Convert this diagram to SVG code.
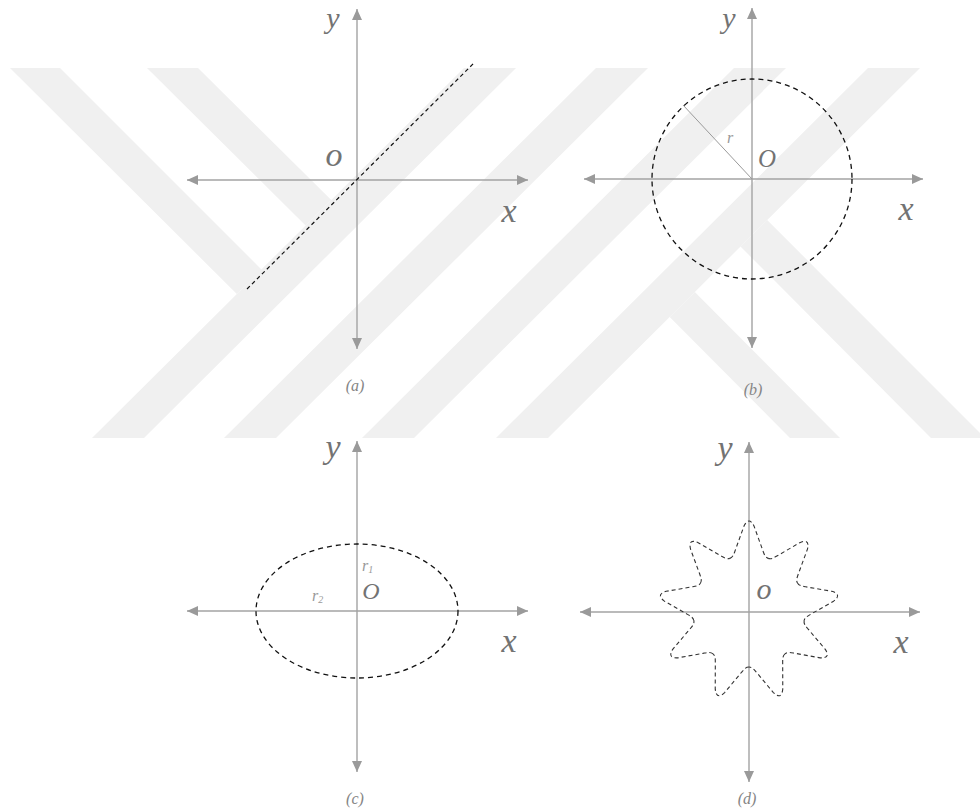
<svg xmlns="http://www.w3.org/2000/svg" xmlns:xlink="http://www.w3.org/1999/xlink" width="980" height="812" viewBox="0 0 980 812">
  <style>
    .wm { fill: #f0f0f0; stroke: none; }
    .axis { stroke: #a3a3a3; stroke-width: 1.4; fill: none; marker-start: url(#arr); marker-end: url(#arr); }
    .dash { stroke: #111111; stroke-width: 1.3; fill: none; stroke-dasharray: 5 4; }
    .dashfine { stroke: #333333; stroke-width: 1.1; fill: none; stroke-dasharray: 4 3; }
    .radius { stroke: #9a9a9a; stroke-width: 1; fill: none; }
    .lbl { font-family: "Liberation Serif", "Times New Roman", serif; font-style: italic; fill: #737373; text-anchor: middle; }
    .big { font-size: 34px; }
    .top { font-size: 30px; }
    .cap { font-size: 16px; fill: #858585; }
    .small { font-size: 16px; fill: #999999; text-anchor: start; }
    .sub { font-size: 10px; }
  </style>
  <defs>
    <marker id="arr" viewBox="0 0 11 10" refX="11" refY="5" markerWidth="11" markerHeight="10" markerUnits="userSpaceOnUse" orient="auto-start-reverse">
      <path d="M0,0 L11,5 L0,10 z" fill="#9a9a9a"/>
    </marker>
    <path id="lobe" d="M-19.15,-52.62 C-16.3,-53.6 -15.5,-56 -14,-60 L-5,-85 Q0,-95 5,-85 L14,-60 C15.5,-56 16.3,-53.6 19.15,-52.62"/>
  </defs>

  <rect x="0" y="0" width="980" height="812" fill="#ffffff"/>

  <g id="watermark">
    <polygon class="wm" points="10,68 60,68 261.9,269.9 236.8,294"/>
    <polygon class="wm" points="147,68 198,68 331.3,200 305.6,225.5"/>
    <polygon class="wm" points="92,438 144,438 516,68 464,68"/>
    <polygon class="wm" points="224,438 276,438 648,68 596,68"/>
    <polygon class="wm" points="362,438 414,438 786,68 734,68"/>
    <polygon class="wm" points="496,438 548,438 920,68 868,68"/>
    <polygon class="wm" points="669.7,317 694.8,292 840,438 790,438"/>
    <polygon class="wm" points="740.5,246.5 767.2,220 985,438 931,438"/>
  </g>

  <g id="connectors">
    <line class="axis" x1="187" y1="180" x2="528" y2="180"/>
    <line class="axis" x1="357" y1="349" x2="357" y2="9"/>
    <line class="axis" x1="584" y1="179" x2="923" y2="179"/>
    <line class="axis" x1="752" y1="348" x2="752" y2="8"/>
    <line class="axis" x1="187" y1="611" x2="528" y2="611"/>
    <line class="axis" x1="357" y1="772" x2="357" y2="441"/>
    <line class="axis" x1="580" y1="612" x2="920" y2="612"/>
    <line class="axis" x1="749" y1="782" x2="749" y2="442"/>
  </g>

  <g id="panel-a">
    <line class="dash" x1="247" y1="289" x2="475" y2="62" style="stroke-dasharray:4 3;stroke-width:1.2"/>
    <text class="lbl top" x="333" y="28">y</text>
    <text class="lbl big" x="334" y="166">o</text>
    <text class="lbl big" x="509" y="222">x</text>
    <text class="lbl cap" x="355" y="391">(a)</text>
  </g>

  <g id="panel-b">
    <circle class="dash" cx="752" cy="179" r="100"/>
    <line class="radius" x1="752" y1="179" x2="683" y2="105"/>
    <text class="lbl small" x="727" y="143">r</text>
    <text class="lbl top" x="729" y="28">y</text>
    <text class="lbl" x="767" y="167" font-size="25">O</text>
    <text class="lbl big" x="906" y="220">x</text>
    <text class="lbl cap" x="753" y="395">(b)</text>
  </g>

  <g id="panel-c">
    <ellipse class="dash" cx="357" cy="611" rx="101" ry="67"/>
    <text class="lbl big" x="333" y="458">y</text>
    <text class="lbl big" x="509" y="652">x</text>
    <text class="lbl" x="371" y="599" font-size="24">O</text>
    <text class="lbl small" x="362" y="571" font-size="15">r<tspan class="sub" dy="1.5">1</tspan></text>
    <text class="lbl small" x="312" y="601" font-size="15">r<tspan class="sub" dy="2">2</tspan></text>
    <text class="lbl cap" x="355" y="804">(c)</text>
  </g>

  <g id="panel-d">
    <g class="dashfine">
      <use xlink:href="#lobe" transform="translate(749,611) rotate(0)"/>
      <use xlink:href="#lobe" transform="translate(749,611) rotate(40)"/>
      <use xlink:href="#lobe" transform="translate(749,611) rotate(80)"/>
      <use xlink:href="#lobe" transform="translate(749,611) rotate(120)"/>
      <use xlink:href="#lobe" transform="translate(749,611) rotate(160)"/>
      <use xlink:href="#lobe" transform="translate(749,611) rotate(200)"/>
      <use xlink:href="#lobe" transform="translate(749,611) rotate(240)"/>
      <use xlink:href="#lobe" transform="translate(749,611) rotate(280)"/>
      <use xlink:href="#lobe" transform="translate(749,611) rotate(320)"/>
    </g>
    <text class="lbl big" x="725" y="459">y</text>
    <text class="lbl" x="764" y="599" font-size="30">o</text>
    <text class="lbl big" x="901" y="653">x</text>
    <text class="lbl cap" x="747" y="804">(d)</text>
  </g>
</svg>
